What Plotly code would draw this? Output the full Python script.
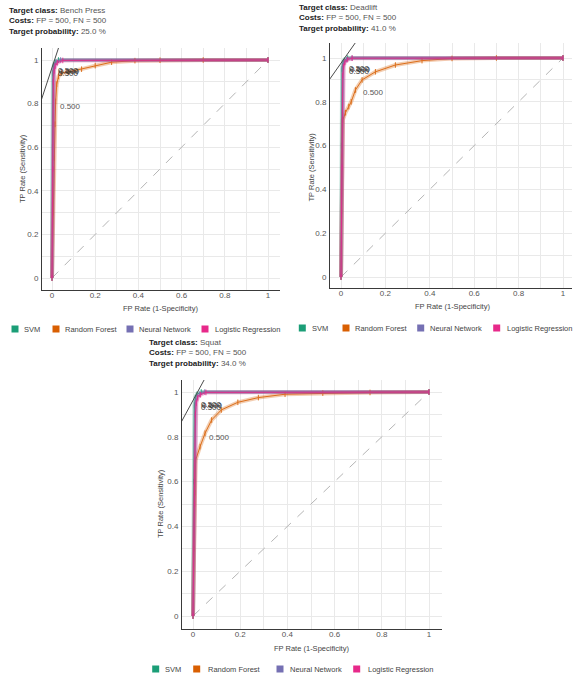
import plotly.graph_objects as go

W, H = 573, 677

MODELS = ["SVM", "Random Forest", "Neural Network", "Logistic Regression"]
COLORS = ["#1b9e77", "#d95f02", "#7570b3", "#e7298a"]

TARGET_CLASSES = ["Bench Press", "Deadlift", "Squat"]
TARGET_PROBS = [25.0, 41.0, 34.0]
COST_FP = 500
COST_FN = 500
TICKS = [0, 0.2, 0.4, 0.6, 0.8, 1]

# ---- Bench Press ROC curves (FP rate, TP rate) ----
bench_svm_fpr = [0, 0.002, 0.004, 0.008, 0.015, 0.03, 1.0]
bench_svm_tpr = [0, 0.6, 0.94, 0.975, 0.99, 1.0, 1.0]
bench_rf_fpr = [0, 0.005, 0.01, 0.014, 0.017, 0.022, 0.03, 0.045, 0.075, 0.137, 0.2, 0.276, 0.384, 0.5, 0.7, 1.0]
bench_rf_tpr = [0, 0.3, 0.55, 0.705, 0.81, 0.889, 0.925, 0.94, 0.945, 0.958, 0.974, 0.99, 0.997, 0.999, 1.0, 1.0]
bench_nn_fpr = [0, 0.003, 0.005, 0.008, 0.012, 0.02, 0.04, 1.0]
bench_nn_tpr = [0, 0.5, 0.9, 0.955, 0.975, 0.99, 1.0, 1.0]
bench_lr_fpr = [0, 0.004, 0.006, 0.01, 0.015, 0.025, 0.05, 1.0]
bench_lr_tpr = [0, 0.5, 0.9, 0.95, 0.972, 0.988, 0.998, 1.0]

# ---- Deadlift ROC curves ----
dead_svm_fpr = [0, 0.002, 0.005, 0.009, 0.015, 0.03, 1.0]
dead_svm_tpr = [0, 0.6, 0.95, 0.98, 0.99, 1.0, 1.0]
dead_rf_fpr = [0, 0.003, 0.005, 0.008, 0.02, 0.035, 0.046, 0.065, 0.095, 0.155, 0.245, 0.365, 0.5, 0.7, 1.0]
dead_rf_tpr = [0, 0.3, 0.55, 0.717, 0.75, 0.778, 0.8, 0.854, 0.9, 0.937, 0.968, 0.988, 0.998, 1.0, 1.0]
dead_nn_fpr = [0, 0.004, 0.007, 0.01, 0.015, 0.025, 0.05, 1.0]
dead_nn_tpr = [0, 0.5, 0.92, 0.965, 0.982, 0.993, 1.0, 1.0]
dead_lr_fpr = [0, 0.005, 0.008, 0.012, 0.018, 0.03, 0.05, 1.0]
dead_lr_tpr = [0, 0.5, 0.92, 0.96, 0.982, 0.993, 0.999, 1.0]

# ---- Squat ROC curves ----
squat_svm_fpr = [0, 0.003, 0.006, 0.01, 0.017, 0.035, 1.0]
squat_svm_tpr = [0, 0.6, 0.94, 0.975, 0.99, 1.0, 1.0]
squat_rf_fpr = [0, 0.004, 0.008, 0.011, 0.03, 0.051, 0.079, 0.12, 0.19, 0.277, 0.39, 0.55, 0.75, 1.0]
squat_rf_tpr = [0, 0.3, 0.55, 0.696, 0.756, 0.816, 0.875, 0.92, 0.954, 0.975, 0.99, 0.995, 0.998, 1.0]
squat_nn_fpr = [0, 0.006, 0.009, 0.012, 0.018, 0.028, 0.05, 1.0]
squat_nn_tpr = [0, 0.5, 0.9, 0.955, 0.978, 0.99, 1.0, 1.0]
squat_lr_fpr = [0, 0.007, 0.01, 0.014, 0.02, 0.032, 0.055, 1.0]
squat_lr_tpr = [0, 0.5, 0.9, 0.95, 0.975, 0.988, 0.998, 1.0]

# optimal operating points (FP rate, TP rate) the iso-performance lines pass through
iso_points = [(0.005, 0.98), (0.008, 0.988), (0.008, 0.978)]
# threshold label positions (RF label, other models' labels)
rf_label_pos = [(0.026, 0.786), (0.091, 0.843), (0.061, 0.796)]
other_label_pos = [(0.017, 0.95), (0.027, 0.95), (0.025, 0.945)]
threshold_text = "0.500"

curves = [
    [(bench_svm_fpr, bench_svm_tpr), (bench_rf_fpr, bench_rf_tpr), (bench_nn_fpr, bench_nn_tpr), (bench_lr_fpr, bench_lr_tpr)],
    [(dead_svm_fpr, dead_svm_tpr), (dead_rf_fpr, dead_rf_tpr), (dead_nn_fpr, dead_nn_tpr), (dead_lr_fpr, dead_lr_tpr)],
    [(squat_svm_fpr, squat_svm_tpr), (squat_rf_fpr, squat_rf_tpr), (squat_nn_fpr, squat_nn_tpr), (squat_lr_fpr, squat_lr_tpr)],
]

# ---------------- layout geometry (pixels) ----------------
panels = [
    dict(x0=42, x1=280, y0=48, y1=290, px0=52, px1=268, py1=60, py0=278,
         title=(7, 4), legend_y=329, leg=[(15, 21.7), (56, 63.3), (130, 137.3), (205, 212.7)], ytitle_x=22, xtitle_y=308),
    dict(x0=330, x1=572, y0=43, y1=288, px0=341, px1=563, py1=58, py0=277,
         title=(297, 1), legend_y=328, leg=[(302.3, 310), (346, 352.7), (420.7, 428.3), (496.7, 505)], ytitle_x=311, xtitle_y=306),
    dict(x0=182, x1=442, y0=380, y1=629, px0=193, px1=429, py1=392, py0=616,
         title=(147, 336), legend_y=669, leg=[(155.7, 163.3), (196.7, 206), (280, 287.7), (356.7, 366)], ytitle_x=160, xtitle_y=648),
]

FONT = "Liberation Sans, Arial, sans-serif"
GRID = "#e9e9e9"

fig = go.Figure()


def fx(px):
    return px / W


def fy(py):
    return 1 - py / H


layout = dict(width=W, height=H, margin=dict(l=0, r=0, t=0, b=0),
              paper_bgcolor="white", plot_bgcolor="white", showlegend=False,
              font=dict(family=FONT, size=8, color="#555"))
annotations = []
shapes = []

for i, p in enumerate(panels):
    n = "" if i == 0 else str(i + 1)
    xa, ya = "x" + n, "y" + n
    sx = p["px1"] - p["px0"]
    sy = p["py0"] - p["py1"]
    xr = [(p["x0"] - p["px0"]) / sx, (p["x1"] - p["px0"]) / sx]
    yr = [(p["py0"] - p["y1"]) / sy, (p["py0"] - p["y0"]) / sy]
    common = dict(showgrid=True, gridcolor=GRID, gridwidth=1, zeroline=False,
                  showline=True, linecolor="#3a3a3a", linewidth=1, ticks="",
                  tickvals=TICKS, tickfont=dict(size=8, color="#555", family=FONT),
                  minor=dict(dtick=0.1, tick0=0, showgrid=True, gridcolor=GRID, gridwidth=1),
                  fixedrange=True)
    layout["xaxis" + n] = dict(common, domain=[fx(p["x0"]), fx(p["x1"])], range=xr, anchor=ya,
                               ticklabelstandoff=-3)
    layout["yaxis" + n] = dict(common, domain=[fy(p["y1"]), fy(p["y0"])], range=yr, anchor=xa,
                               ticklabelstandoff=1)

    # axis titles
    annotations.append(dict(text="FP Rate (1-Specificity)", xref="paper", yref="paper",
                            x=fx((p["px0"] + p["px1"]) / 2), y=fy(p["xtitle_y"]), showarrow=False,
                            xanchor="center", yanchor="middle", font=dict(size=7.5, color="#444", family=FONT)))
    annotations.append(dict(text="TP Rate (Sensitivity)", xref="paper", yref="paper",
                            x=fx(p["ytitle_x"]), y=fy((p["py0"] + p["py1"]) / 2), showarrow=False, textangle=-90,
                            xanchor="center", yanchor="middle", font=dict(size=7.5, color="#444", family=FONT)))

    # diagonal
    fig.add_trace(go.Scatter(x=[0, 1], y=[0, 1], mode="lines", xaxis=xa, yaxis=ya,
                             line=dict(color="#b5b5b5", width=1, dash="dash"), hoverinfo="skip"))

    # curves: translucent band + thin line
    for m, (fpr, tpr) in enumerate(curves[i]):
        fig.add_trace(go.Scatter(x=fpr, y=tpr, mode="lines", xaxis=xa, yaxis=ya,
                                 line=dict(color=COLORS[m], width=4), opacity=0.3, hoverinfo="skip"))
        fig.add_trace(go.Scatter(x=fpr, y=tpr, mode="lines+markers", xaxis=xa, yaxis=ya,
                                 line=dict(color=COLORS[m], width=1),
                                 marker=dict(symbol="line-ns", size=4, line=dict(color=COLORS[m], width=1)),
                                 opacity=0.85, name=MODELS[m]))

    # iso-performance line
    prob = TARGET_PROBS[i] / 100
    slope = (COST_FP * (1 - prob)) / (COST_FN * prob)
    x0, y0 = iso_points[i]
    xs = [x0 - 0.4, x0 + 0.4]
    ys = [y0 + slope * (v - x0) for v in xs]
    fig.add_trace(go.Scatter(x=xs, y=ys, mode="lines", xaxis=xa, yaxis=ya,
                             line=dict(color="#4a4a4a", width=1), hoverinfo="skip"))

    # threshold labels
    rx, ry = rf_label_pos[i]
    annotations.append(dict(text=threshold_text, x=rx, y=ry, xref=xa, yref=ya, showarrow=False,
                            xanchor="left", yanchor="middle", font=dict(size=8, color="#555", family=FONT)))
    ox, oy = other_label_pos[i]
    for k, (dx, dy) in enumerate([(0, 0), (1, -1), (0, -3)]):
        annotations.append(dict(text=threshold_text, x=ox, y=oy, xref=xa, yref=ya, showarrow=False,
                                xshift=dx, yshift=dy, xanchor="left", yanchor="middle",
                                font=dict(size=8, color="#333", family=FONT)))

    # panel header
    tx, ty = p["title"]
    header = (f"<b>Target class:</b> <span style='color:#555'>{TARGET_CLASSES[i]}</span><br>"
              f"<b>Costs:</b> <span style='color:#555'>FP = {COST_FP}, FN = {COST_FN}</span><br>"
              f"<b>Target probability:</b> <span style='color:#555'>{TARGET_PROBS[i]:.1f} %</span>")
    annotations.append(dict(text=header, xref="paper", yref="paper", x=fx(tx), y=fy(ty),
                            xanchor="left", yanchor="top", align="left", showarrow=False,
                            font=dict(size=8, color="#222", family=FONT)))

    # legend
    for m, (sqx, txx) in enumerate(p["leg"]):
        ly = p["legend_y"]
        shapes.append(dict(type="rect", xref="paper", yref="paper",
                           x0=fx(sqx - 3.5), x1=fx(sqx + 3.5), y0=fy(ly + 3.5), y1=fy(ly - 3.5),
                           fillcolor=COLORS[m], line=dict(width=0)))
        annotations.append(dict(text=MODELS[m], xref="paper", yref="paper", x=fx(txx), y=fy(ly),
                                xanchor="left", yanchor="middle", showarrow=False,
                                font=dict(size=7.5, color="#444", family=FONT)))

layout["annotations"] = annotations
layout["shapes"] = shapes
fig.update_layout(**layout)
fig.write_html("out.html", config={"displayModeBar": False},
               post_script="document.body.style.margin='0';document.body.style.overflow='hidden';")
